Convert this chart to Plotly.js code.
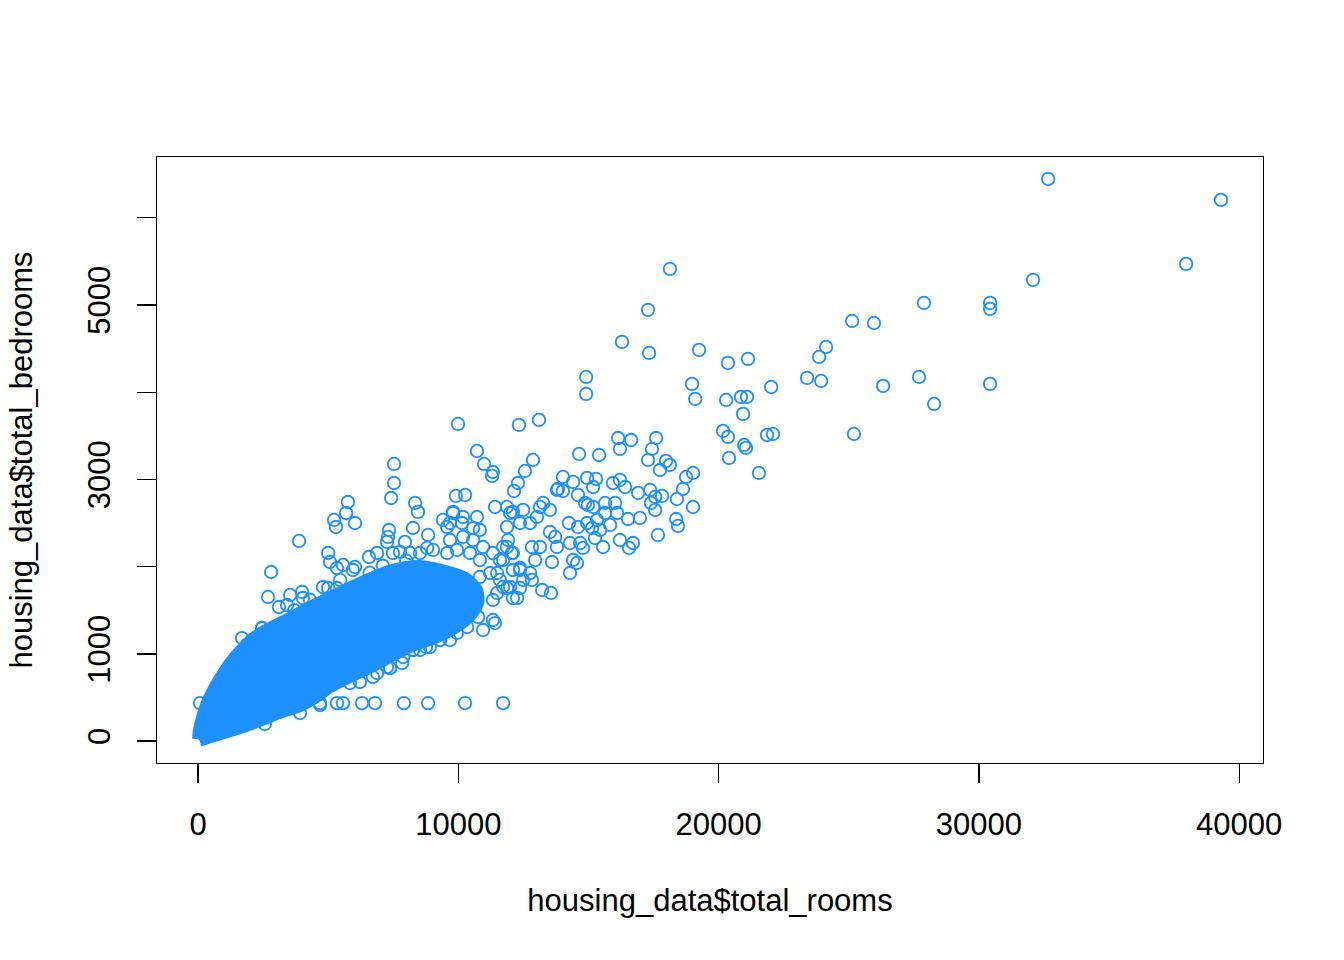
<!DOCTYPE html>
<html>
<head>
<meta charset="utf-8">
<script src="https://cdn.plot.ly/plotly-3.0.1.min.js"></script>
<style>
  body { margin: 0; background: #fff }
  #grafico { width: 1344px; height: 960px }
</style>
</head>
<body>
<div id="grafico"></div>
<script>
// outline of the saturated part of the cloud (rooms, bedrooms)
const coreRooms = [0, 40, 150, 310, 540, 850, 1230, 1690, 2230, 2840, 3530, 4300, 5260, 6300, 7450, 8530, 9490, 10260, 10720, 10760, 10450, 9870, 9110, 8220, 7450, 6720, 5920, 5070, 4610, 3920, 3230, 2460, 1610, 850, 270, 60]
const coreBedrooms = [20, 126, 264, 413, 562, 723, 895, 1055, 1204, 1308, 1411, 1537, 1675, 1824, 1961, 2007, 1950, 1870, 1732, 1583, 1434, 1296, 1181, 1090, 975, 860, 746, 619, 516, 401, 333, 241, 149, 80, 23, 5]

// the flat row of filled-in values
const rowRooms = [80, 650, 1230, 1810, 2380, 3150, 3920, 4690, 5340, 5570, 6300, 6800, 7910, 8840, 10260, 11720]
const rowBedrooms = [435, 435, 435, 435, 435, 435, 435, 435, 435, 435, 435, 435, 435, 435, 435, 435]

// points on the rim of the saturated part
const rimRooms = [5840, 6220, 6720, 8760, 4800, 5460, 5950, 2570, 3920, 4690, 2080, 2460, 1110, 1310, 730, 7380, 8260, 9300, 1500, 1900, 3700, 4300, 6600, 7100, 8000]
const rimBedrooms = [665, 677, 734, 1078, 1766, 1847, 1961, 195, 321, 413, 1158, 1296, 791, 872, 551, 837, 1044, 1158, 970, 1110, 1500, 1620, 1930, 2010, 2070]

// single points that can be told apart
const rooms = [
  32660, 39300, 37960, 32080, 27890, 30430, 30430, 25130, 25970, 24130, 23860, 23400, 23940, 26320, 27700, 28280, 30430, 25200, 22090, 21860, 21550,
  18130, 17290, 16290, 17330, 19250, 20360, 21130, 14910, 14910, 18980, 19100, 20290, 20860, 21090, 22020, 20940, 20170, 20360, 20980, 21050, 20400,
  16140, 16640, 16210, 17600, 17440, 17290, 14640, 15410, 17980, 18130, 17750, 19020, 18750, 18630, 18400, 19020, 18370, 18440, 17670, 17830, 17400,
  17560, 17560, 17370, 16910, 16210, 16410, 16980, 16520, 16210, 16560, 16710, 16020, 15640, 16100, 15640, 15330, 15140, 15450, 15830, 14950, 14600,
  14250, 14290, 14680, 14790, 15250, 15560, 14410, 14290, 14560, 13720, 13790, 13520, 13140, 13020, 13520, 13260, 12490, 12760, 12370, 11990, 11870,
  11410, 12830, 13140, 12950, 13600, 12760, 13220, 13560, 12260, 12370, 11870, 11910, 12100, 12370, 12490, 11990, 11330, 11410, 10720, 10180, 9800,
  9680, 10830, 10570, 11720, 11600, 11490, 11720, 11330, 12330, 13100, 9990, 10720, 10990, 11330, 11300, 12870, 12560, 12290, 12140, 9910, 10260,
  14020, 14410, 13830, 14020, 14950, 15290, 15180, 14600, 14980, 7530, 7530, 7420, 5760, 5690, 5230, 5300, 6030, 3880, 8340, 8450, 7340,
  7300, 8260, 5000, 5070, 2810, 2690, 3540, 4000, 4030, 1690, 2080, 2460, 1810, 1310, 1110, 850, 730, 5570, 5340, 6030, 8840,
  7950, 6880, 6570, 3110, 3420, 5000, 5340, 7260, 7760, 8150, 7490, 8530, 9410, 9800, 11330, 10830, 11220, 10760, 10340, 9950, 9300,
  8910, 8260, 7840, 7380, 6880, 9570, 10140, 10570, 10180, 9680, 8800, 9030, 10950, 10450, 9950, 9570, 10830, 11870, 12060, 11720, 12100,
  12370, 12830, 11870, 11490, 11600, 10950, 9680, 8530, 7880, 7260, 12100, 12100, 13790, 15940, 14870, 15180
]
const bedrooms = [
  6446, 6205, 5471, 5288, 5024, 5024, 4955, 4817, 4794, 4519, 4404, 4164, 4129, 4072, 4175, 3865, 4095, 3521, 3521, 3510, 3074,
  5414, 4944, 4577, 4450, 4485, 4336, 4382, 4175, 3980, 4095, 3923, 3911, 3946, 3946, 4060, 3751, 3556, 3487, 3395, 3361, 3246,
  3475, 3452, 3349, 3475, 3349, 3223, 3292, 3280, 3212, 3166, 3108, 3074, 3028, 2890, 2776, 2684, 2546, 2466, 2363, 2810, 2730,
  2650, 2799, 2879, 2845, 2994, 2913, 2558, 2546, 2305, 2214, 2271, 2730, 2730, 2615, 2615, 2535, 2443, 2420, 2478, 2500, 2455,
  2500, 2271, 2271, 2214, 2328, 2225, 2076, 1927, 2042, 2340, 2225, 2397, 2684, 2569, 2650, 2730, 2650, 2500, 2500, 2615, 2684,
  2684, 2225, 2225, 2076, 2053, 1927, 1732, 1698, 1640, 1755, 2455, 2305, 2156, 1984, 1847, 1766, 1388, 1353, 2569, 2569, 2615,
  2500, 2420, 2305, 2225, 2076, 1927, 1766, 1617, 3625, 3682, 3636, 3326, 3177, 3085, 3040, 3223, 3097, 2959, 2868, 2810, 2822,
  3028, 2971, 2890, 2868, 3017, 3005, 2913, 2822, 2707, 3177, 2959, 2787, 2741, 2615, 2535, 2455, 2500, 2294, 2730, 2627, 2420,
  2340, 2443, 2156, 2053, 1938, 1652, 1675, 1709, 1640, 1181, 1158, 1296, 1021, 872, 791, 619, 551, 2019, 1984, 1996, 2363,
  2283, 2156, 2110, 1537, 1560, 1755, 1755, 2283, 2168, 2156, 2156, 2156, 2535, 2627, 2156, 1881, 1927, 1422, 1308, 1239, 1158,
  1078, 1044, 895, 837, 780, 2455, 2500, 2443, 2340, 2305, 2214, 2191, 2225, 2156, 2191, 2156, 2076, 2225, 2156, 2076, 1961,
  1961, 1847, 1755, 1698, 1847, 1273, 1158, 1044, 963, 849, 1640, 2627, 2879, 2959, 2730, 2684
]

const azul = "#1E90FF"
const fonte = "Liberation Sans, Arial, sans-serif"

const nucleo = {
  x: coreRooms,
  y: coreBedrooms,
  type: "scatter",
  mode: "lines",
  fill: "toself",
  fillcolor: azul,
  line: { color: azul, width: 12, shape: "spline", smoothing: 0.8 },
  hoverinfo: "skip",
}

const circulo = { symbol: "circle-open", size: 12.5, color: azul, line: { width: 1.8, color: azul } }

const linha = { x: rowRooms, y: rowBedrooms, type: "scatter", mode: "markers", marker: circulo }
const borda = { x: rimRooms, y: rimBedrooms, type: "scatter", mode: "markers", marker: circulo }
const pontos = { x: rooms, y: bedrooms, type: "scatter", mode: "markers", marker: circulo }

const eixo = {
  ticks: "outside",
  ticklen: 19,
  tickwidth: 1.4,
  tickcolor: "#000",
  showline: true,
  mirror: true,
  linecolor: "#000",
  linewidth: 1.4,
  showgrid: false,
  zeroline: false,
  tickfont: { family: fonte, size: 31, color: "#000" },
}

const layout = {
  width: 1344,
  height: 960,
  showlegend: false,
  paper_bgcolor: "#fff",
  plot_bgcolor: "#fff",
  margin: { l: 157, r: 81, t: 157, b: 197 },
  font: { family: fonte, color: "#000", size: 31 },
  xaxis: {
    ...eixo,
    range: [-1575, 40914],
    tickvals: [0, 10000, 20000, 30000, 40000],
    ticktext: ["0", "10000", "20000", "30000", "40000"],
    ticklabelstandoff: 14,
    title: { text: "housing_data$total_rooms", font: { family: fonte, size: 31, color: "#000" }, standoff: 48 },
  },
  yaxis: {
    ...eixo,
    range: [-252, 6697],
    tickvals: [0, 1000, 2000, 3000, 4000, 5000, 6000],
    ticktext: ["0", "1000", "", "3000", "", "5000", ""],
    tickangle: -90,
    ticklabelstandoff: 14,
    title: { text: "housing_data$total_bedrooms", font: { family: fonte, size: 31, color: "#000" }, standoff: 40 },
  },
}

Plotly.newPlot("grafico", [nucleo, linha, borda, pontos], layout, { displayModeBar: false, staticPlot: true })
</script>
</body>
</html>
